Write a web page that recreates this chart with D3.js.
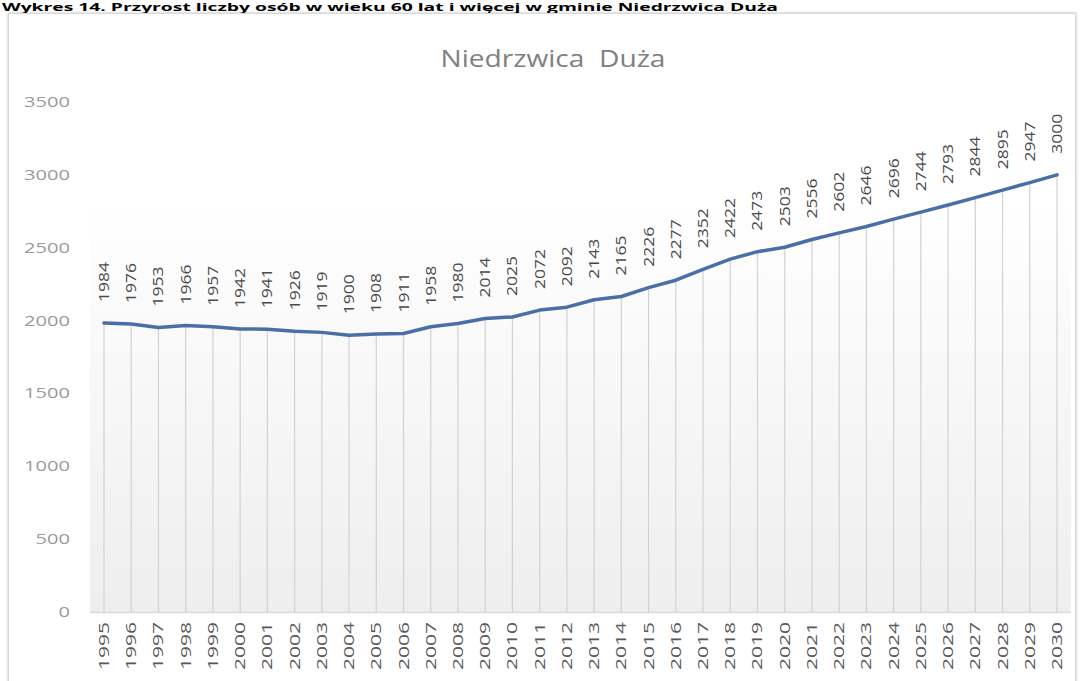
<!DOCTYPE html>
<html>
<head>
<meta charset="utf-8">
<script src="https://cdn.jsdelivr.net/npm/d3@7"></script>
<style>
  body { margin: 0; background: #fff; }
  svg { display: block; }
</style>
</head>
<body>
<svg width="1082" height="681"></svg>
<script>
var years = d3.range(1995, 2031).map(String);
var values = [1984, 1976, 1953, 1966, 1957, 1942, 1941, 1926, 1919, 1900, 1908, 1911,
              1958, 1980, 2014, 2025, 2072, 2092, 2143, 2165, 2226, 2277, 2352, 2422,
              2473, 2503, 2556, 2602, 2646, 2696, 2744, 2793, 2844, 2895, 2947, 3000];
var yTicks = [0, 500, 1000, 1500, 2000, 2500, 3000, 3500];
var chartTitle = 'Niedrzwica  Duża';
var pageTitle = 'Wykres 14. Przyrost liczby osób w wieku 60 lat i więcej w gminie Niedrzwica Duża';

var svg = d3.select('svg');
var font = 'Open Sans, Liberation Sans, sans-serif';

// caption above the chart box
svg.append('text')
    .attr('x', 2).attr('y', 11)
    .attr('font-family', font).attr('font-weight', 'bold')
    .attr('font-size', 10.5).attr('fill', '#000')
    .attr('textLength', 776).attr('lengthAdjust', 'spacingAndGlyphs')
    .text(pageTitle);

// chart box
var defs = svg.append('defs');
var sh = defs.append('filter').attr('id', 'sh').attr('x', '-2%').attr('y', '-2%').attr('width', '104%').attr('height', '104%');
sh.append('feDropShadow').attr('dx', 0).attr('dy', 0).attr('stdDeviation', 1.5).attr('flood-color', '#000').attr('flood-opacity', 0.25);
svg.append('rect')
    .attr('x', 8.5).attr('y', 13.5).attr('width', 1067).attr('height', 690)
    .attr('fill', '#fff').attr('stroke', '#d9d9d9').attr('filter', 'url(#sh)');

var x = d3.scalePoint().domain(years).range([104, 1057]);
var y = d3.scaleLinear().domain([0, 3500]).range([612, 102]);

// light wall behind the series
var grad = defs.append('linearGradient').attr('id', 'wall').attr('x1', 0).attr('y1', 0).attr('x2', 0).attr('y2', 1);
grad.append('stop').attr('offset', '0%').attr('stop-color', '#ffffff');
grad.append('stop').attr('offset', '100%').attr('stop-color', '#eeeeee');
svg.append('rect')
    .attr('x', 90).attr('y', 200).attr('width', 981).attr('height', y(0) - 200)
    .attr('fill', 'url(#wall)');

svg.append('text')
    .attr('x', 553).attr('y', 67)
    .attr('text-anchor', 'middle')
    .attr('font-family', font).attr('font-size', 24).attr('fill', '#808080')
    .attr('textLength', 225).attr('lengthAdjust', 'spacingAndGlyphs')
    .style('white-space', 'pre')
    .text(chartTitle);

// y axis labels
svg.append('g').selectAll('text')
    .data(yTicks)
    .enter().append('text')
    .attr('x', 70)
    .attr('y', function (d) { return y(d) + 5; })
    .attr('text-anchor', 'end')
    .attr('font-family', font).attr('font-size', 14.5).attr('fill', '#9a9a9a')
    .attr('textLength', function (d) { return String(d).length * 11.5; })
    .attr('lengthAdjust', 'spacingAndGlyphs')
    .text(function (d) { return d; });

// drop lines
svg.append('g').selectAll('line')
    .data(values)
    .enter().append('line')
    .attr('x1', function (d, i) { return x(years[i]); })
    .attr('x2', function (d, i) { return x(years[i]); })
    .attr('y1', function (d) { return y(d); })
    .attr('y2', y(0))
    .attr('stroke', '#d2d2d2').attr('stroke-width', 1.2);

// x axis line
svg.append('line')
    .attr('x1', 90).attr('x2', 1071)
    .attr('y1', y(0) + 0.5).attr('y2', y(0) + 0.5)
    .attr('stroke', '#d9d9d9').attr('stroke-width', 1.5);

// x labels
svg.append('g').selectAll('text')
    .data(years)
    .enter().append('text')
    .attr('transform', function (d) { return 'translate(' + (x(d) + 5) + ',' + (y(0) + 10) + ') rotate(-90)'; })
    .attr('text-anchor', 'end')
    .attr('font-family', font).attr('font-size', 14).attr('fill', '#595959')
    .attr('textLength', 48).attr('lengthAdjust', 'spacingAndGlyphs')
    .text(function (d) { return d; });

// series line
var line = d3.line()
    .x(function (d, i) { return x(years[i]); })
    .y(function (d) { return y(d); });
svg.append('path')
    .datum(values)
    .attr('d', line)
    .attr('fill', 'none')
    .attr('stroke', '#4a6ea8').attr('stroke-width', 3.5)
    .attr('stroke-linejoin', 'round').attr('stroke-linecap', 'round');

// data labels
svg.append('g').selectAll('text')
    .data(values)
    .enter().append('text')
    .attr('transform', function (d, i) { return 'translate(' + (x(years[i]) + 5) + ',' + (y(d) - 21) + ') rotate(-90)'; })
    .attr('text-anchor', 'start')
    .attr('font-family', font).attr('font-size', 14).attr('fill', '#4a4a4a')
    .attr('textLength', 40).attr('lengthAdjust', 'spacingAndGlyphs')
    .text(function (d) { return d; });
</script>
</body>
</html>
